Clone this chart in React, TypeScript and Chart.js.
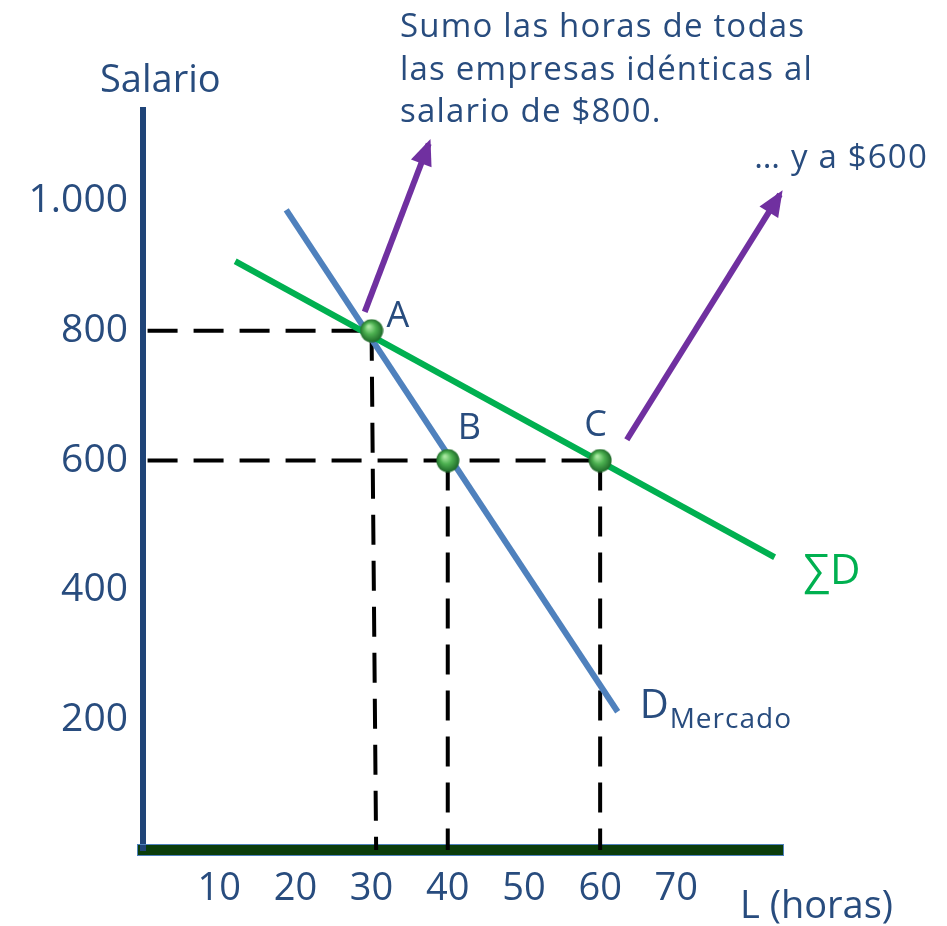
import React, { useEffect, useRef } from 'react';
import { Chart, registerables } from 'chart.js';

Chart.register(...registerables);

// ---- data (x = L horas, y = salario) ----
const xTicks = [10, 20, 30, 40, 50, 60, 70];
const yTicks = [200, 400, 600, 800, 1000];
const yTickLabels = ['200', '400', '600', '800', '1.000'];

const dMercadoX = [18.8, 62.3];
const dMercadoY = [986, 213];
const sumDX = [12.1, 82.9];
const sumDY = [907, 451];

const pointLabels = ['A', 'B', 'C'];
const pointX = [30, 40, 60];
const pointY = [800, 600, 600];

const arrow1X = [29.1, 37.5];
const arrow1Y = [829, 1088];
const arrow2X = [63.5, 83.6];
const arrow2Y = [632, 1010];

const guide800X = [0.6, 30];
const guide800Y = [800, 800];
const guide600X = [0.6, 60];
const guide600Y = [600, 600];
const guideAX = [30, 30.6];
const guideAY = [800, 0];
const guideBX = [40, 40];
const guideBY = [600, 0];
const guideCX = [60, 60];
const guideCY = [600, 0];

const noteLines = ['Sumo las horas de todas', 'las empresas idénticas al', 'salario de $800.'];
const note2 = '… y a $600';
const yTitle = 'Salario';
const xTitle = 'L (horas)';

const TEXT = '#284c7e';
const FONT = '"Open Sans", "DejaVu Sans", sans-serif';

const toPts = (xs: number[], ys: number[]) => xs.map((x, i) => ({ x, y: ys[i] }));

function makeSphere(d: number) {
  const c = document.createElement('canvas');
  c.width = d;
  c.height = d;
  const g = c.getContext('2d')!;
  const r = d / 2;
  const grad = g.createRadialGradient(r * 0.75, r * 0.65, 1, r, r, r);
  grad.addColorStop(0, '#a8e8a0');
  grad.addColorStop(0.45, '#4cb050');
  grad.addColorStop(1, '#1b6426');
  g.fillStyle = grad;
  g.beginPath();
  g.arc(r, r, r - 0.5, 0, Math.PI * 2);
  g.fill();
  return c;
}

const overlay = {
  id: 'overlay',
  beforeDatasetsDraw(chart: any) {
    // thin blue outline around the x axis bar
    const ctx = chart.ctx;
    const a = chart.chartArea;
    ctx.save();
    ctx.strokeStyle = '#4f81bd';
    ctx.lineWidth = 1;
    ctx.strokeRect(a.left - 5.5, a.bottom - 5.5, a.right - a.left + 6, 11);
    ctx.restore();
  },
  afterDatasetsDraw(chart: any) {
    const ctx = chart.ctx;
    chart.data.datasets.forEach((ds: any, i: number) => {
      if (!ds.arrow) return;
      const pts = chart.getDatasetMeta(i).data;
      const p0 = pts[pts.length - 2];
      const p1 = pts[pts.length - 1];
      const dx = p1.x - p0.x;
      const dy = p1.y - p0.y;
      const len = Math.hypot(dx, dy);
      const ux = dx / len;
      const uy = dy / len;
      const tx = p1.x + ux * 5;
      const ty = p1.y + uy * 5;
      const L = 26;
      const W = 11;
      ctx.save();
      ctx.fillStyle = ds.borderColor;
      ctx.beginPath();
      ctx.moveTo(tx, ty);
      ctx.lineTo(tx - ux * L - uy * W, ty - uy * L + ux * W);
      ctx.lineTo(tx - ux * L + uy * W, ty - uy * L - ux * W);
      ctx.closePath();
      ctx.fill();
      ctx.restore();
    });
  },
  afterDraw(chart: any) {
    const ctx = chart.ctx;
    const xs = chart.scales.x;
    const ys = chart.scales.y;
    ctx.save();
    ctx.textBaseline = 'alphabetic';
    ctx.fillStyle = TEXT;

    // axis titles
    ctx.font = `38px ${FONT}`;
    ctx.textAlign = 'left';
    ctx.fillText(yTitle, 100, 92);
    ctx.fillText(xTitle, 740, 918);

    // notes
    ctx.font = `33px ${FONT}`;
    (ctx as any).letterSpacing = '1.2px';
    const baselines = [37, 80, 122];
    noteLines.forEach((t, i) => ctx.fillText(t, 400, baselines[i]));
    ctx.textAlign = 'right';
    ctx.fillText(note2, 928, 168);
    (ctx as any).letterSpacing = '0px';

    // point labels
    ctx.textAlign = 'left';
    ctx.font = `36px ${FONT}`;
    const offs = [[15, -4], [10, -22], [-16, -25]];
    pointLabels.forEach((t, i) => {
      const px = xs.getPixelForValue(pointX[i]);
      const py = ys.getPixelForValue(pointY[i]);
      ctx.fillText(t, px + offs[i][0], py + offs[i][1]);
    });

    // D Mercado
    const bx = xs.getPixelForValue(dMercadoX[1]);
    const by = ys.getPixelForValue(dMercadoY[1]);
    ctx.font = `40px ${FONT}`;
    ctx.fillText('D', bx + 22, by + 6);
    const dw = ctx.measureText('D').width;
    ctx.font = `28px ${FONT}`;
    (ctx as any).letterSpacing = '1px';
    ctx.fillText('Mercado', bx + 22 + dw + 1, by + 16);
    (ctx as any).letterSpacing = '0px';

    // Sum D
    const gx = xs.getPixelForValue(sumDX[1]);
    const gy = ys.getPixelForValue(sumDY[1]);
    ctx.fillStyle = '#00b050';
    ctx.font = `42px ${FONT}`;
    ctx.fillText('∑D', gx + 29, gy + 27);
    ctx.restore();
  },
};

export default function App() {
  const ref = useRef<HTMLCanvasElement>(null);
  useEffect(() => {
    const sphere = makeSphere(24);
    const dashed = (xs: number[], ys: number[]) => ({
      data: toPts(xs, ys),
      showLine: true,
      borderColor: '#000000',
      borderWidth: 4,
      borderDash: [30, 16],
      pointRadius: 0,
      clip: false,
      order: 5,
    });
    const chart = new Chart(ref.current!, {
      type: 'scatter',
      data: {
        datasets: [
          {
            data: toPts(pointX, pointY),
            showLine: false,
            pointStyle: sphere as any,
            pointRadius: 12,
            order: 0,
            clip: false,
          } as any,
          {
            data: toPts(sumDX, sumDY),
            showLine: true,
            borderColor: '#00b050',
            borderWidth: 6,
            pointRadius: 0,
            order: 1,
            clip: false,
          },
          {
            data: toPts(dMercadoX, dMercadoY),
            showLine: true,
            borderColor: '#4f81bd',
            borderWidth: 6,
            pointRadius: 0,
            order: 2,
            clip: false,
          },
          {
            data: toPts(arrow1X, arrow1Y),
            showLine: true,
            borderColor: '#7030a0',
            borderWidth: 6,
            pointRadius: 0,
            order: 3,
            clip: false,
            arrow: true,
          } as any,
          {
            data: toPts(arrow2X, arrow2Y),
            showLine: true,
            borderColor: '#7030a0',
            borderWidth: 6,
            pointRadius: 0,
            order: 3,
            clip: false,
            arrow: true,
          } as any,
          dashed(guide800X, guide800Y),
          dashed(guide600X, guide600Y),
          dashed(guideAX, guideAY),
          dashed(guideBX, guideBY),
          dashed(guideCX, guideCY),
        ],
      },
      options: {
        responsive: false,
        animation: false,
        devicePixelRatio: 1,
        layout: { padding: { top: 110, right: 164, left: 0, bottom: 0 } },
        plugins: { legend: { display: false }, tooltip: { enabled: false } },
        events: [],
        scales: {
          x: {
            type: 'linear',
            min: 0,
            max: 84,
            afterBuildTicks: (s: any) => {
              s.ticks = xTicks.map((v) => ({ value: v }));
            },
            afterFit: (s: any) => {
              s.height = 76;
            },
            grid: { color: 'rgba(0,0,0,0)', drawTicks: false },
            border: { display: true, color: '#0b3d0b', width: 11 },
            ticks: {
              autoSkip: false,
              maxRotation: 0,
              padding: 16,
              color: TEXT,
              font: { family: FONT, size: 38 },
              callback: (v: any) => String(v),
            },
          },
          y: {
            type: 'linear',
            min: 0,
            max: 1140,
            afterBuildTicks: (s: any) => {
              s.ticks = yTicks.map((v) => ({ value: v }));
            },
            afterFit: (s: any) => {
              s.width = 143;
            },
            grid: { color: 'rgba(0,0,0,0)', drawTicks: false },
            border: { display: true, color: '#1f4478', width: 6 },
            ticks: {
              autoSkip: false,
              padding: 15,
              color: TEXT,
              font: { family: FONT, size: 39 },
              callback: (v: any) => {
                const i = yTicks.indexOf(v);
                return i >= 0 ? yTickLabels[i] : '';
              },
            },
          },
        },
      } as any,
      plugins: [overlay],
    });
    return () => chart.destroy();
  }, []);
  return (
    <div style={{ position: 'fixed', left: 0, top: 0, width: 947, height: 926, background: '#ffffff' }}>
      <canvas ref={ref} width={947} height={926} style={{ display: 'block' }} />
    </div>
  );
}
